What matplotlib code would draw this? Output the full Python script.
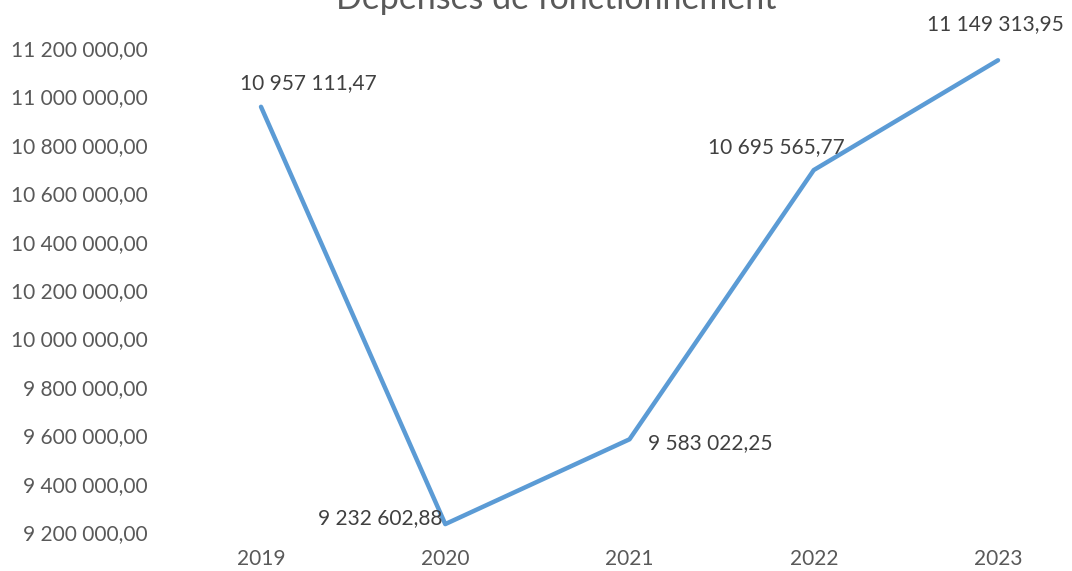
import matplotlib.pyplot as plt
from matplotlib.ticker import FuncFormatter

plt.rcParams['font.family'] = ['Lato', 'DejaVu Sans']

# Data
years = ['2019', '2020', '2021', '2022', '2023']
depenses = [10957111.47, 9232602.88, 9583022.25, 10695565.77, 11149313.95]

# label offsets in pixels (dx, dy) and horizontal alignment
label_pos = [(47, 24, 'center'), (-3, 6, 'right'), (18, -4, 'left'),
             (-37, 23, 'center'), (-3, 36, 'center')]


def fr(v, pos=None):
    s = '{:,.2f}'.format(v)
    return s.replace(',', ' ').replace('.', ',')


W, H = 1072, 571
fig = plt.figure(figsize=(W / 100, H / 100), dpi=100)
left_px, right_px = 160, 1072
top_px, bottom_px = 48, 532
ax = fig.add_axes([left_px / W, 1 - bottom_px / H,
                   (right_px - left_px) / W, (bottom_px - top_px) / H])

x = list(range(len(years)))
ax.plot(x, depenses, color='#5B9BD5', lw=3.2, solid_capstyle='round', clip_on=False)

for xi, v, (dx, dy, ha) in zip(x, depenses, label_pos):
    ax.annotate(fr(v), (xi, v), xytext=(dx, dy), textcoords='offset pixels',
                ha=ha, va='center', fontsize=15, color='#404040')

step = 184.25
ax.set_xlim(-(261 - left_px) / step, 4 + (right_px - 998) / step)
ax.set_ylim(9200000, 11200000)
ax.set_yticks([9200000 + 200000 * i for i in range(11)])
ax.yaxis.set_major_formatter(FuncFormatter(fr))
ax.set_xticks(x)
ax.set_xticklabels(years)
ax.tick_params(length=0, labelsize=15, labelcolor='#595959')
ax.tick_params(axis='y', pad=9)
ax.tick_params(axis='x', pad=12)
for s in ax.spines.values():
    s.set_visible(False)

# title is cut off at the top edge, as in the scanned original
fig.text(556 / W, 1 - 9 / H, 'Dépenses de fonctionnement', ha='center', va='baseline',
         fontsize=24.5, color='#595959')

fig.savefig('out.png', dpi=100)
